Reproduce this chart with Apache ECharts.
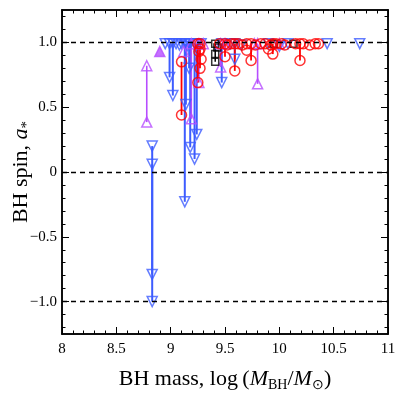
<!DOCTYPE html>
<html>
<head>
<meta charset="utf-8">
<script src="https://cdn.jsdelivr.net/npm/echarts@6/dist/echarts.min.js"></script>
<style>
  html, body { margin: 0; padding: 0; background: #fff; }
  #chart { width: 399px; height: 398px; }
</style>
</head>
<body>
<div id="chart"></div>
<script>
// spin ranges: [log mass, spin top, spin bottom]
const blueSegs = [
  [8.83, 0.20, -0.79], [8.83, 0.06, -1.00], [8.99, 0.99, 0.73], [9.02, 0.99, 0.59],
  [9.13, 0.99, -0.23], [9.14, 0.99, 0.52], [9.18, 0.99, 0.19], [9.22, 0.99, 0.10],
  [9.24, 0.99, 0.29], [9.17, 0.99, 0.80], [9.47, 0.99, 0.69], [9.59, 0.99, 0.87]
]
const blueExtra = [
  [8.95, 0.99], [9.05, 0.99], [9.08, 0.98], [9.10, 0.99], [9.15, 0.97], [9.28, 0.99],
  [9.55, 0.99], [9.65, 0.98], [9.90, 0.99], [10.00, 0.97], [10.08, 0.99], [10.44, 0.99], [10.74, 0.99]
]
const purpleSegs = [
  [8.78, 0.82, 0.385], [9.19, 0.99, 0.41], [9.26, 0.99, 0.69], [9.46, 0.99, 0.81], [9.80, 0.99, 0.68]
]
const purpleExtra = [
  [9.12, 0.93], [9.30, 0.99], [9.50, 0.99], [9.77, 0.99], [10.00, 0.99]
]
const purpleFilled = [[8.90, 0.93]]
const redSegs = [
  [9.10, 0.85, 0.44], [9.25, 0.99, 0.69], [9.27, 0.99, 0.80], [9.50, 0.99, 0.89],
  [9.59, 0.99, 0.78], [9.74, 0.99, 0.86], [9.94, 0.99, 0.91], [10.19, 0.99, 0.86]
]
const redExtra = [
  [9.26, 0.93], [9.28, 0.87], [9.27, 0.95], [9.45, 0.99], [9.52, 0.98], [9.56, 0.99],
  [9.62, 0.99], [9.66, 0.98], [9.70, 0.99], [9.78, 0.98], [9.83, 0.99], [9.87, 0.99],
  [9.92, 0.98], [9.97, 0.99], [10.02, 0.99], [10.05, 0.98], [10.15, 0.99], [10.22, 0.99],
  [10.28, 0.98], [10.33, 0.99], [10.36, 0.99], [9.90, 0.95], [9.70, 0.94]
]
const blackSegs = [[9.41, 0.99, 0.85]]
const blackExtra = [[9.41, 0.91], [9.43, 0.96], [9.95, 0.99], [10.13, 0.99]]

const xTicks = [8, 8.5, 9, 9.5, 10, 10.5, 11]
const yTicks = [-1, -0.5, 0, 0.5, 1]
const refLines = [1, 0, -1]

const BLUE = '#3d5cff'
const PURPLE = '#b74dff'
const RED = '#ff0000'
const BLACK = '#000000'

const minorX = []
for (let v = 80; v <= 110; v++) minorX.push(v / 10)
const minorY = []
for (let v = -12; v <= 12; v++) minorY.push(v / 10)

const fmtY = (v) => {
  if (v === 0) return '0'
  let s = Math.abs(v).toFixed(1)
  return (v < 0 ? '\u2212' : '') + s
}

const ends = (segs) => {
  let pts = []
  segs.forEach((s) => {
    pts.push([s[0], s[1]])
    pts.push([s[0], s[2]])
  })
  return pts
}

const segSeries = (segs, color, width) => ({
  type: 'custom',
  xAxisIndex: 0,
  yAxisIndex: 0,
  data: segs,
  silent: true,
  renderItem: (params, api) => {
    let p1 = api.coord([api.value(0), api.value(1)])
    let p2 = api.coord([api.value(0), api.value(2)])
    return {
      type: 'line',
      shape: { x1: p1[0], y1: p1[1], x2: p2[0], y2: p2[1] },
      style: { stroke: color, lineWidth: width }
    }
  }
})

const markSeries = (pts, color, symbol, size, rotate, fill) => ({
  type: 'scatter',
  xAxisIndex: 0,
  yAxisIndex: 0,
  data: pts,
  symbol: symbol,
  symbolSize: size,
  symbolRotate: rotate || 0,
  silent: true,
  itemStyle: { color: fill || 'rgba(255,255,255,0)', borderColor: color, borderWidth: 1.5 }
})

const serif = 'Liberation Serif'
const frameLine = { show: true, onZero: false, lineStyle: { color: '#000', width: 1.5 } }

const xAxisBase = (pos, vals, len, showLabel) => ({
  type: 'value',
  position: pos,
  min: 8,
  max: 11,
  axisLine: frameLine,
  splitLine: { show: false },
  axisTick: { show: true, inside: true, length: len, customValues: vals, lineStyle: { color: '#000', width: 1 } },
  axisLabel: showLabel
    ? { show: true, customValues: xTicks, fontFamily: serif, fontSize: 15, color: '#000', margin: 8 }
    : { show: false }
})

const yAxisBase = (pos, vals, len, showLabel) => ({
  type: 'value',
  position: pos,
  min: -1.25,
  max: 1.25,
  axisLine: frameLine,
  splitLine: { show: false },
  axisTick: { show: true, inside: true, length: len, customValues: vals, lineStyle: { color: '#000', width: 1 } },
  axisLabel: showLabel
    ? { show: true, customValues: yTicks, formatter: fmtY, fontFamily: serif, fontSize: 15, color: '#000', margin: 5 }
    : { show: false }
})

const xMain = xAxisBase('bottom', xTicks, 7, true)
xMain.name = 'BH mass, log\u2009({i|M}{s|BH}/{i|M}{s|\u2299})'
xMain.nameLocation = 'middle'
xMain.nameGap = 32
xMain.nameMoveOverlap = false
xMain.nameTextStyle = {
  fontFamily: serif, fontSize: 22, color: '#000',
  rich: {
    i: { fontFamily: serif, fontStyle: 'italic', fontSize: 22, color: '#000' },
    s: { fontFamily: serif, fontSize: 14, color: '#000', verticalAlign: 'bottom', padding: [12, 0, 0, 0] }
  }
}

const yMain = yAxisBase('left', yTicks, 7, true)
yMain.name = 'BH spin, {i|a}{s|*}'
yMain.nameLocation = 'middle'
yMain.nameGap = 27
yMain.nameMoveOverlap = false
yMain.nameTextStyle = {
  fontFamily: serif, fontSize: 22, color: '#000',
  rich: {
    i: { fontFamily: serif, fontStyle: 'italic', fontSize: 22, color: '#000' },
    s: { fontFamily: serif, fontSize: 15, color: '#000', verticalAlign: 'bottom', padding: [12, 0, 0, 0] }
  }
}

const option = {
  animation: false,
  backgroundColor: '#fff',
  grid: { left: 62, right: 11, top: 10, bottom: 64, outerBoundsMode: 'none' },
  xAxis: [
    xMain,
    xAxisBase('bottom', minorX, 3.5, false),
    xAxisBase('top', xTicks, 7, false),
    xAxisBase('top', minorX, 3.5, false)
  ],
  yAxis: [
    yMain,
    yAxisBase('left', minorY, 3.5, false),
    yAxisBase('right', yTicks, 7, false),
    yAxisBase('right', minorY, 3.5, false)
  ],
  series: [
    {
      type: 'line',
      data: [],
      markLine: {
        silent: true,
        symbol: 'none',
        label: { show: false },
        lineStyle: { color: '#000', type: [5, 4], width: 1.3 },
        data: refLines.map((v) => ({ yAxis: v }))
      }
    },
    segSeries(blueSegs, BLUE, 2),
    segSeries(purpleSegs, PURPLE, 1.6),
    segSeries(blackSegs, BLACK, 1.5),
    segSeries(redSegs, RED, 1.8),
    markSeries(ends(blueSegs).concat(blueExtra), BLUE, 'triangle', 10, 180),
    markSeries(ends(purpleSegs).concat(purpleExtra), PURPLE, 'triangle', 10),
    markSeries(purpleFilled, PURPLE, 'triangle', 10, 0, PURPLE),
    markSeries(ends(blackSegs).concat(blackExtra), BLACK, 'rect', 7),
    markSeries(ends(redSegs).concat(redExtra), RED, 'circle', 10)
  ]
}

echarts.init(document.getElementById('chart')).setOption(option)
</script>
</body>
</html>
